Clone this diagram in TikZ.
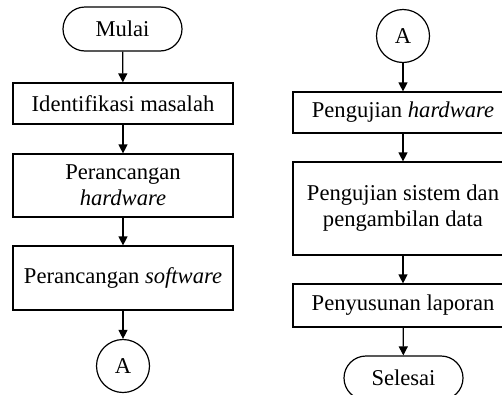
\documentclass[tikz,border=0pt]{standalone}
\usepackage{fontspec}
\setmainfont{Liberation Serif}
\usetikzlibrary{arrows.meta}
\begin{document}
\begin{tikzpicture}[x=1pt,y=-1pt,
  every node/.style={font=\fontsize{22.6}{26}\selectfont, inner sep=0pt, align=center},
  box/.style={draw, line width=1.2pt, rectangle, minimum width=220pt},
  term/.style={draw, line width=1.2pt, rectangle, rounded corners=22pt, minimum width=119pt, minimum height=44pt},
  conn/.style={draw, line width=1.2pt, circle, minimum size=53pt},
  flow/.style={line width=1.2pt, -{Triangle[length=9pt,width=9pt]}}]
\clip (0,0) rectangle (502,394);
% left column
\node[term] (m) at (122.5,29) {Mulai};
\node[box, minimum height=41pt] (b1) at (123,103.5) {Identifikasi masalah};
\node[box, minimum height=63pt] (b2) at (123,185.5) {Perancangan\\\textit{hardware}};
\node[box, minimum height=64pt] (b3) at (123,278) {Perancangan \textit{software}};
\node[conn] (a1) at (123,366) {A};
% right column
\node[conn] (a2) at (403,36) {A};
\node[box, minimum height=41pt] (r1) at (403,112.5) {Pengujian \textit{hardware}};
\node[box, minimum height=93pt] (r2) at (403,208.5) {Pengujian sistem dan\\pengambilan data};
\node[box, minimum height=43pt] (r3) at (403,305.5) {Penyusunan laporan};
\node[term] (s) at (403.5,378) {Selesai};
% connectors
\draw[flow] (m) -- (b1);
\draw[flow] (b1) -- (b2);
\draw[flow] (b2) -- (b3);
\draw[flow] (b3) -- (a1);
\draw[flow] (a2) -- (r1);
\draw[flow] (r1) -- (r2);
\draw[flow] (r2) -- (r3);
\draw[flow] (r3) -- (s);
\end{tikzpicture}
\end{document}
